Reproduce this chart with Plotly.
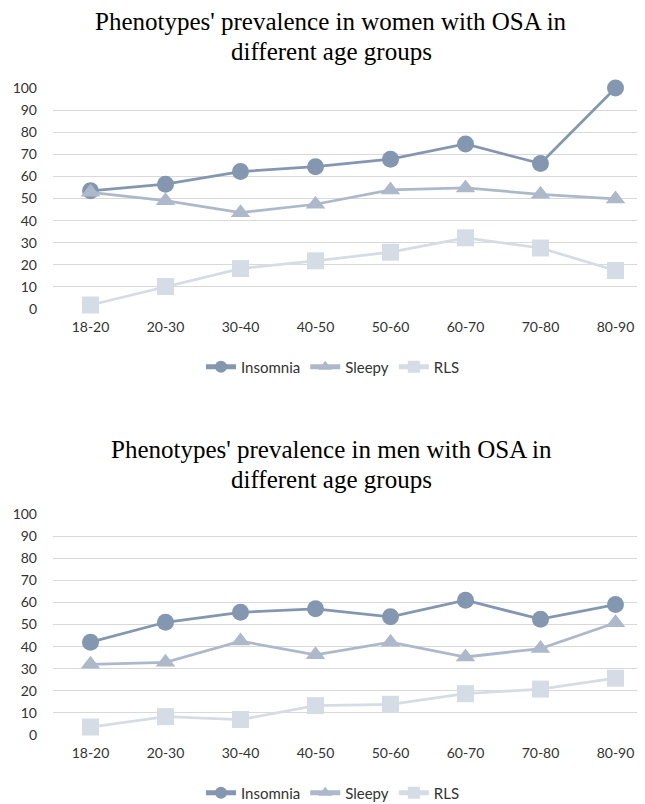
import plotly.graph_objects as go

categories = ["18-20", "20-30", "30-40", "40-50", "50-60", "60-70", "70-80", "80-90"]

women_insomnia = [53.5, 56.5, 62.2, 64.4, 67.8, 74.7, 65.8, 100]
women_sleepy = [52.8, 49.0, 43.6, 47.4, 53.9, 54.8, 51.9, 49.8]
women_rls = [1.8, 10.2, 18.3, 21.8, 25.7, 32.2, 27.6, 17.4]

men_insomnia = [42.0, 51.0, 55.5, 57.1, 53.5, 61.0, 52.4, 59.0]
men_sleepy = [32.0, 32.9, 42.5, 36.3, 42.0, 35.3, 39.1, 50.8]
men_rls = [3.6, 8.3, 7.0, 13.3, 13.9, 18.7, 20.8, 25.7]

series_names = ["Insomnia", "Sleepy", "RLS"]
colors = ["#8497B0", "#ADB9CA", "#D6DCE5"]
symbols = ["circle", "triangle-up", "square"]

title_women = ["Phenotypes' prevalence in women with OSA in", "different age groups"]
title_men = ["Phenotypes' prevalence in men with OSA in", "different age groups"]

W, H = 645, 804
OFF = 8  # page body margin offset

fig = go.Figure()

panels = [
    (["x", "y"], [women_insomnia, women_sleepy, women_rls], "legend"),
    (["x2", "y2"], [men_insomnia, men_sleepy, men_rls], "legend2"),
]
for (xa, ya), data, leg in panels:
    for name, vals, col, sym in zip(series_names, data, colors, symbols):
        fig.add_trace(go.Scatter(
            x=categories, y=vals, name=name, xaxis=xa, yaxis=ya,
            mode="lines+markers", legend=leg,
            line=dict(color=col, width=2.75),
            marker=dict(color=col, size=17, symbol=sym, line=dict(width=0)),
            cliponaxis=False,
        ))

textcol = "#333333"
tickfont = dict(family="Lato", size=14, color=textcol)


def px(p):
    return (p - OFF) / W


def py(p):
    return (H - (p - OFF)) / H


x_dom = [px(53), 1.0]

axis_common_y = dict(range=[0, 100], dtick=10, tick0=0, showgrid=True,
                     gridcolor="#D9D9D9", gridwidth=1, zeroline=False,
                     showline=False, tickfont=tickfont, ticks="",
                     ticklabelstandoff=15, automargin=False, fixedrange=True)
axis_common_x = dict(range=[-0.5, 7.5], showgrid=False, zeroline=False,
                     showline=False, tickfont=tickfont, ticks="",
                     ticklabelstandoff=8, automargin=False, domain=x_dom,
                     type="category")

# plot right edge in figure px so that category spacing matches (~75.1 px)
legend_font = dict(family="Lato", size=15, color=textcol)

annotations = []
for lines, ys in [(title_women, (22, 52)), (title_men, (449, 479))]:
    for txt, yy in zip(lines, ys):
        annotations.append(dict(text=txt, x=px(331), y=py(yy), xref="paper", yref="paper",
                                xanchor="center", yanchor="middle", showarrow=False,
                                font=dict(family="Liberation Serif", size=25, color="black")))

fig.update_layout(
    width=W, height=H,
    margin=dict(l=0, r=0, t=0, b=0),
    paper_bgcolor="white", plot_bgcolor="white",
    xaxis=dict(axis_common_x, anchor="y"),
    yaxis=dict(axis_common_y, domain=[py(309), py(88)], anchor="x"),
    xaxis2=dict(axis_common_x, anchor="y2"),
    yaxis2=dict(axis_common_y, domain=[py(735), py(514)], anchor="x2"),
    legend=dict(orientation="h", x=px(333), xanchor="center", y=py(367),
                yanchor="middle", font=legend_font,
                itemsizing="constant", bgcolor="rgba(0,0,0,0)"),
    legend2=dict(orientation="h", x=px(333), xanchor="center", y=py(793),
                 yanchor="middle", font=legend_font,
                 itemsizing="constant", bgcolor="rgba(0,0,0,0)"),
    annotations=annotations,
    showlegend=True,
)

fig.write_html("out.html")
